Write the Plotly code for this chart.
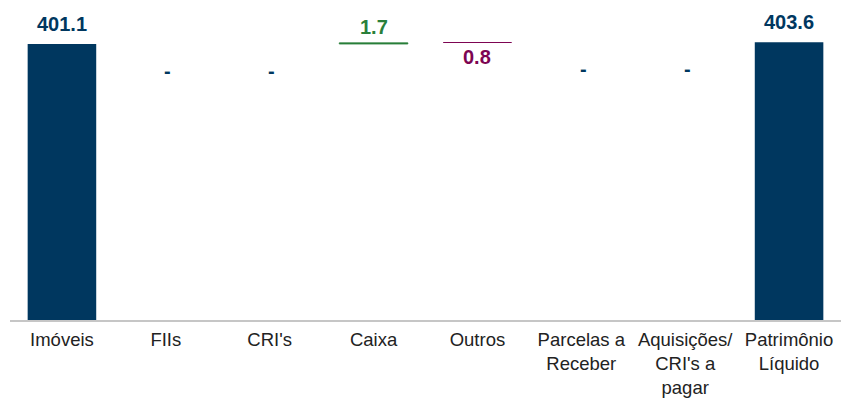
import plotly.graph_objects as go

categories = ["Imóveis", "FIIs", "CRI's", "Caixa", "Outros",
              "Parcelas a<br>Receber", "Aquisições/<br>CRI's a<br>pagar",
              "Patrimônio<br>Líquido"]
values = [401.1, 0.0, 0.0, 1.7, 0.8, 0.0, 0.0, 403.6]
labels = ["401.1", "-", "-", "1.7", "0.8", "-", "-", "403.6"]
measures = ["absolute", "relative", "relative", "relative", "relative",
            "relative", "relative", "total"]

NAVY = "#00375F"
GREEN = "#2A7F3A"
MAROON = "#7D0552"
colors = [NAVY, NAVY, NAVY, GREEN, MAROON, NAVY, NAVY, NAVY]

# compute bases (waterfall)
bases, tops = [], []
running = 0.0
for v, m in zip(values, measures):
    if m in ("absolute", "total"):
        bases.append(0.0); running = v
    else:
        bases.append(running); running += v
    tops.append(bases[-1] + v)

line_w = [0, 0, 0, 0.8, 0, 0, 0, 0]

fig = go.Figure()
fig.add_trace(go.Bar(
    x=list(range(len(categories))), y=values, base=bases,
    marker=dict(color=colors, line=dict(color=colors, width=line_w)),
    width=0.66, hoverinfo="skip", showlegend=False,
))

# label offsets (pixels) relative to bar top
label_shift = []
for lab, m in zip(labels, measures):
    if lab == "-":
        label_shift.append(-27)
    elif m in ("absolute", "total"):
        label_shift.append(20)
    elif lab == "0.8":
        label_shift.append(-15)
    else:
        label_shift.append(16)

for i, (lab, top, c, s) in enumerate(zip(labels, tops, colors, label_shift)):
    fig.add_annotation(
        x=i, y=top, text="<b>%s</b>" % lab, showarrow=False,
        yanchor="middle", yshift=s, xshift=(2 if lab == "-" else 0),
        font=dict(family="Liberation Sans, Arial, sans-serif", size=20, color=c),
    )

fig.update_layout(
    width=841, height=401,
    margin=dict(l=10, r=0, t=31, b=81),
    plot_bgcolor="white", paper_bgcolor="white",
    xaxis=dict(
        tickmode="array", tickvals=list(range(len(categories))),
        ticktext=categories, range=[-0.5, len(categories) - 0.5],
        showgrid=False, zeroline=False, showline=True,
        linecolor="#C6C6C6", linewidth=1.5, ticks="",
        ticklabelstandoff=2,
        tickfont=dict(family="Liberation Sans, Arial, sans-serif", size=18.5, color="#222222"),
        fixedrange=True,
    ),
    yaxis=dict(range=[0, 420], visible=False, showgrid=False, zeroline=False),
)

fig.write_html("out.html")
